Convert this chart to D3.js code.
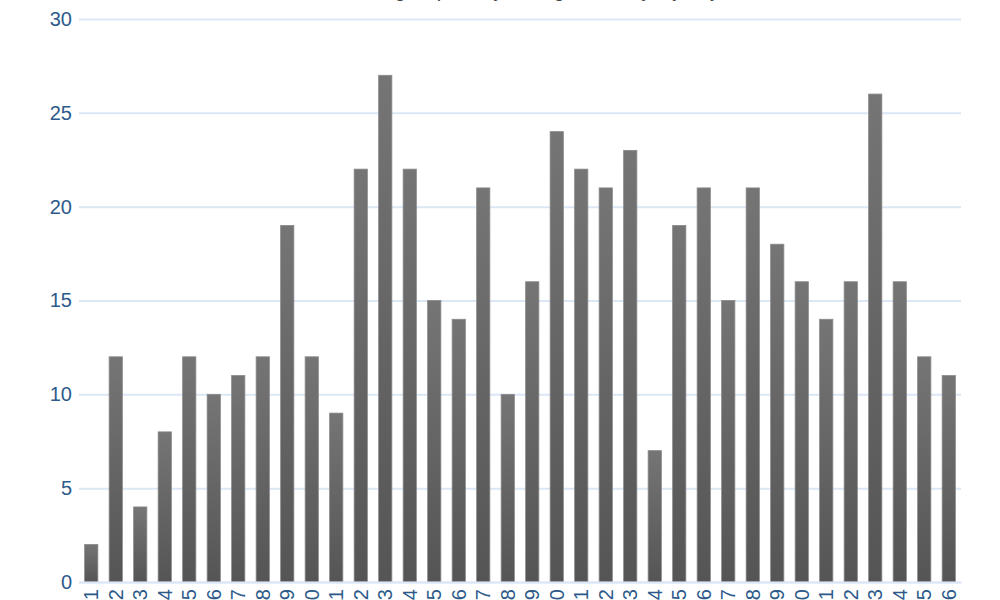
<!DOCTYPE html>
<html>
<head>
<meta charset="utf-8">
<script src="https://cdn.jsdelivr.net/npm/d3@7"></script>
<style>
  html, body { margin: 0; padding: 0; background: #fff; }
  svg { display: block; font-family: "Liberation Sans", Arial, Helvetica, sans-serif; }
</style>
</head>
<body>
<svg id="chart" width="1000" height="600"></svg>
<script>
const categories = ["1","2","3","4","5","6","7","8","9","10","11","12","13","14","15","16","17","18","19","20","21","22","23","24","25","26","27","28","29","30","31","32","33","34","35","36"];
const values = [2,12,4,8,12,10,11,12,19,12,9,22,27,22,15,14,21,10,16,24,22,21,23,7,19,21,15,21,18,16,14,16,26,16,12,11];
const yTicks = [0,5,10,15,20,25,30];
const titleText = "Number of logins per day during the study, by day";

const svg = d3.select("#chart");
const W = 1000, H = 600;
const margin = {left: 79, right: 39, top: 19, bottom: 18};

const x = d3.scaleBand()
  .domain(categories)
  .range([margin.left, W - margin.right])
  .paddingInner(0.46)
  .paddingOuter(0.23);

const y = d3.scaleLinear()
  .domain([0, 30])
  .range([H - margin.bottom, margin.top]);

const defs = svg.append("defs");
const grad = defs.append("linearGradient")
  .attr("id", "barGrad").attr("x1", 0).attr("y1", 0).attr("x2", 0).attr("y2", 1);
grad.append("stop").attr("offset", "0%").attr("stop-color", "#757575");
grad.append("stop").attr("offset", "100%").attr("stop-color", "#555555");

// title (mostly cut off at top, as in the reference)
svg.append("text")
  .attr("x", 500).attr("y", -3)
  .attr("text-anchor", "middle")
  .attr("font-size", 20)
  .attr("fill", "#444")
  .text(titleText);

// grid
const yAxis = d3.axisLeft(y).tickValues(yTicks).tickSize(-(W - margin.left - margin.right)).tickPadding(7);
const gy = svg.append("g").attr("transform", `translate(${margin.left},0)`).call(yAxis);
gy.select(".domain").remove();
gy.selectAll(".tick line").attr("stroke", "#dbe7f5").attr("stroke-width", 2);
gy.selectAll(".tick text").attr("fill", "#2d5a8a").attr("font-size", 20)
  .attr("font-family", "'Liberation Sans', Arial, sans-serif");

// bars
svg.append("g").selectAll("rect")
  .data(values)
  .join("rect")
  .attr("x", (d, i) => x(categories[i]))
  .attr("y", d => y(d))
  .attr("width", x.bandwidth())
  .attr("height", d => y(0) - y(d))
  .attr("fill", "url(#barGrad)")
  .attr("stroke", "#8a8a8a")
  .attr("stroke-width", 0.8);

// x axis
const xAxis = d3.axisBottom(x).tickSize(0).tickPadding(6);
const gx = svg.append("g").attr("transform", `translate(0,${y(0)})`).call(xAxis);
gx.select(".domain").attr("stroke", "#dbe7f5").attr("stroke-width", 2);
gx.selectAll(".tick text")
  .attr("fill", "#2d5a8a").attr("font-size", 20)
  .attr("font-family", "'Liberation Sans', Arial, sans-serif")
  .attr("text-anchor", "end")
  .attr("dy", "0.35em")
  .attr("transform", "translate(0,7) rotate(-90)")
  .attr("x", 0).attr("y", 0);
</script>
</body>
</html>
